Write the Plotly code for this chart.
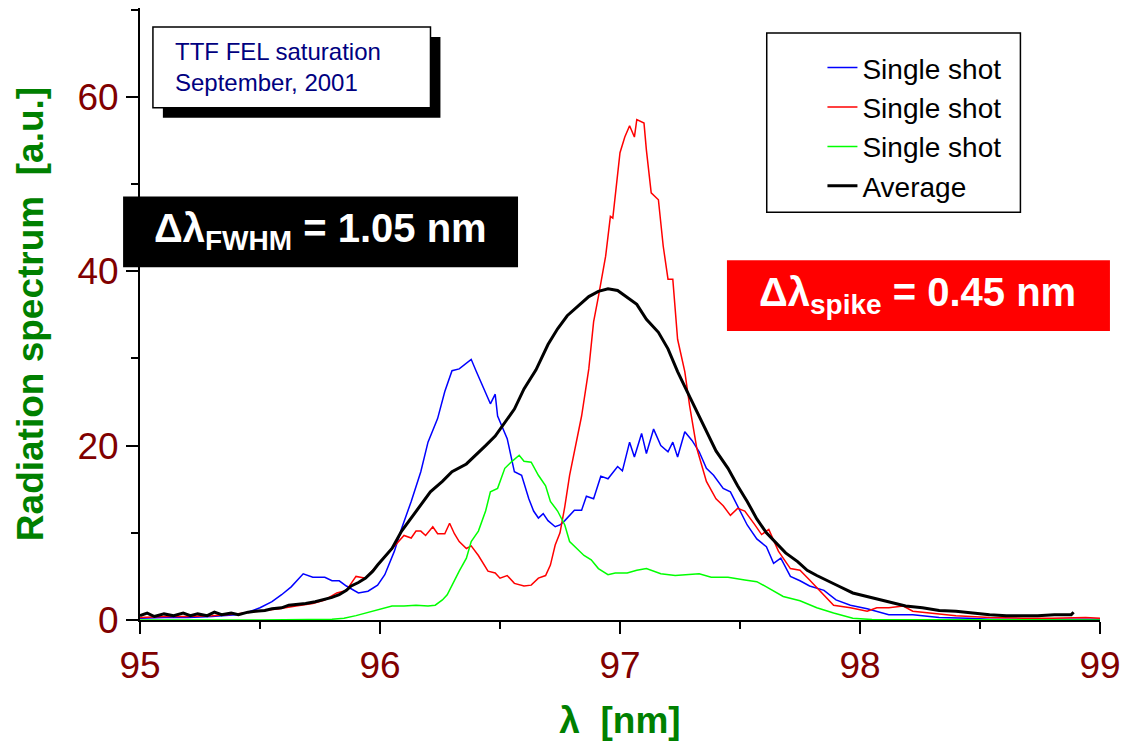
import plotly.graph_objects as go

# ---------------- data ----------------
X_TICKS = [95, 96, 97, 98, 99]
Y_TICKS = [0, 20, 40, 60]

BLUE = [(95.0,0.2),(95.1,0.3),(95.2,0.3),(95.3,0.4),(95.4,0.6),(95.45,0.9),(95.5,1.4),(95.55,2.1),
        (95.59,2.9),(95.63,3.8),(95.68,5.3),(95.72,4.9),(95.77,4.9),(95.8,4.5),(95.83,4.5),(95.86,3.9),
        (95.91,3.1),(95.95,3.3),(95.99,4.0),(96.02,5.2),(96.06,7.9),(96.09,10.5),(96.13,13.6),(96.17,17.0),
        (96.20,20.4),(96.24,23.1),(96.27,26.2),(96.30,28.6),(96.33,28.8),(96.36,29.5),(96.38,29.9),(96.40,28.6),
        (96.44,26.2),(96.46,24.8),(96.48,25.9),(96.49,23.4),(96.53,20.8),(96.56,17.0),(96.59,16.6),(96.62,13.9),
        (96.64,12.5),(96.66,11.7),(96.68,12.2),(96.70,11.4),(96.73,10.7),(96.75,10.9),(96.77,11.4),(96.81,12.6),
        (96.84,12.6),(96.86,14.2),(96.89,13.9),(96.92,16.5),(96.95,16.2),(96.99,17.6),(97.01,17.1),(97.04,20.4),
        (97.06,18.7),(97.09,21.4),(97.11,19.1),(97.14,21.9),(97.17,20.0),(97.20,19.3),(97.22,20.4),(97.24,18.7),
        (97.27,21.6),(97.30,20.6),(97.33,19.3),(97.36,17.4),(97.39,16.6),(97.43,15.1),(97.46,14.7),(97.49,13.1),
        (97.53,10.9),(97.57,9.3),(97.61,8.4),(97.64,6.5),(97.67,7.1),(97.71,5.0),(97.75,4.5),(97.79,3.9),
        (97.85,3.4),(97.90,2.3),(97.96,1.7),(98.03,1.3),(98.12,0.6),(98.22,0.6),(98.33,0.3),(98.45,0.2),
        (98.54,0.1),(98.7,0.1),(98.85,0.1),(99.0,0.1)]

RED = [(95.0,0.3),(95.1,0.4),(95.2,0.4),(95.3,0.5),(95.4,0.7),(95.5,1.0),(95.58,1.3),(95.65,1.6),
       (95.72,1.9),(95.77,2.3),(95.82,3.1),(95.86,3.4),(95.90,5.0),(95.94,4.8),(95.99,6.3),(96.05,8.1),
       (96.10,9.7),(96.13,9.4),(96.15,10.2),(96.17,10.2),(96.19,9.7),(96.22,10.7),(96.24,9.9),(96.27,9.9),
       (96.29,11.1),(96.31,9.9),(96.33,9.0),(96.36,8.2),(96.38,8.5),(96.41,7.4),(96.45,5.6),(96.48,5.4),
       (96.50,4.8),(96.53,5.1),(96.56,4.2),(96.60,3.9),(96.63,4.0),(96.66,4.8),(96.69,5.1),(96.71,6.3),
       (96.73,8.6),(96.75,10.0),(96.77,13.0),(96.79,16.6),(96.81,19.5),(96.84,23.4),(96.87,28.8),(96.89,34.2),
       (96.91,37.1),(96.94,41.7),(96.96,46.3),(96.97,46.1),(97.00,53.6),(97.02,55.4),(97.04,56.7),(97.06,55.4),
       (97.07,57.4),(97.10,57.0),(97.11,53.9),(97.13,49.0),(97.16,48.2),(97.18,42.9),(97.20,39.1),(97.22,39.1),
       (97.24,32.2),(97.27,28.5),(97.29,24.6),(97.32,19.7),(97.36,15.9),(97.40,13.9),(97.43,13.1),(97.46,12.0),
       (97.49,12.8),(97.52,12.5),(97.56,11.0),(97.59,9.8),(97.62,10.4),(97.66,7.9),(97.71,5.9),(97.75,5.7),
       (97.79,4.6),(97.83,3.4),(97.89,1.7),(97.96,1.4),(98.03,1.0),(98.07,1.4),(98.12,1.4),(98.18,1.6),
       (98.22,1.0),(98.29,0.8),(98.40,0.5),(98.54,0.3),(98.68,0.2),(98.80,0.2),(98.94,0.3),(99.0,0.2)]

GREEN = [(95.0,0.0),(95.5,0.0),(95.8,0.1),(95.85,0.2),(95.90,0.5),(95.97,1.0),(96.02,1.4),(96.05,1.6),
         (96.10,1.6),(96.15,1.7),(96.20,1.6),(96.23,1.7),(96.26,2.3),(96.28,2.9),(96.33,5.6),(96.36,7.1),
         (96.38,9.0),(96.41,10.2),(96.44,12.5),(96.46,14.7),(96.49,15.1),(96.52,17.4),(96.55,18.2),(96.58,18.9),
         (96.60,18.2),(96.63,18.1),(96.66,16.6),(96.69,15.4),(96.71,13.6),(96.74,12.5),(96.77,10.9),(96.79,9.0),
         (96.82,8.2),(96.85,7.4),(96.88,6.9),(96.91,5.9),(96.95,5.2),(96.98,5.4),(97.03,5.4),(97.07,5.7),
         (97.11,5.9),(97.17,5.3),(97.23,5.1),(97.28,5.2),(97.33,5.3),(97.38,4.9),(97.45,4.9),(97.52,4.6),
         (97.57,4.4),(97.61,3.8),(97.65,3.2),(97.68,2.7),(97.75,2.2),(97.82,1.4),(97.89,0.8),(97.97,0.2),
         (98.05,0.05),(98.5,0.0),(99.0,0.0)]

AVERAGE = [(95.0,0.5),(95.03,0.8),(95.06,0.4),(95.1,0.7),(95.14,0.5),(95.18,0.8),(95.21,0.5),(95.24,0.7),
           (95.28,0.5),(95.31,0.9),(95.34,0.6),(95.38,0.8),(95.41,0.6),(95.45,0.9),(95.48,1.0),(95.52,1.1),
           (95.55,1.3),(95.59,1.4),(95.62,1.7),(95.66,1.8),(95.69,1.9),(95.73,2.1),(95.76,2.3),(95.80,2.6),
           (95.83,2.9),(95.86,3.4),(95.88,3.9),(95.91,4.3),(95.94,4.8),(95.97,5.6),(95.99,6.3),(96.02,7.2),
           (96.05,8.2),(96.09,10.2),(96.13,11.7),(96.17,13.1),(96.21,14.7),(96.26,15.9),(96.30,17.0),(96.36,17.9),
           (96.40,18.9),(96.44,20.0),(96.48,21.1),(96.52,22.7),(96.56,24.2),(96.60,26.5),(96.65,28.7),(96.70,31.6),
           (96.74,33.4),(96.78,34.9),(96.82,35.9),(96.87,37.1),(96.91,37.7),(96.95,38.0),(96.99,37.8),(97.03,37.0),
           (97.07,36.2),(97.11,34.5),(97.16,33.0),(97.20,31.1),(97.24,28.5),(97.28,26.2),(97.32,23.9),(97.36,21.6),
           (97.40,19.4),(97.45,17.4),(97.49,15.4),(97.53,13.6),(97.57,11.6),(97.61,10.0),(97.65,8.8),(97.69,7.7),
           (97.74,6.7),(97.78,5.7),(97.82,5.1),(97.86,4.6),(97.91,3.9),(97.97,3.1),(98.03,2.7),(98.08,2.3),
           (98.14,1.9),(98.19,1.6),(98.26,1.4),(98.33,1.1),(98.40,1.0),(98.47,0.8),(98.54,0.6),(98.61,0.5),
           (98.68,0.5),(98.74,0.5),(98.81,0.6),(98.88,0.6),(98.89,0.9)]

SERIES = [("Single shot", BLUE, "#0000FF", 1.5),
          ("Single shot", RED, "#FF0000", 1.5),
          ("Single shot", GREEN, "#00FF00", 1.5),
          ("Average", AVERAGE, "#000000", 3)]

# ---------------- figure ----------------
W, H = 1129, 742
L, R, T, B = 140, 24, 8, 120
PW, PH = W - L - R, H - T - B

def px(x):
    return (x - L) / PW

def py(y):
    return (H - B - y) / PH

fig = go.Figure()
for name, pts, color, width in SERIES:
    xs = [p[0] for p in pts]
    ys = [p[1] for p in pts]
    fig.add_trace(go.Scatter(x=xs, y=ys, mode="lines", name=name,
                             line=dict(color=color, width=width)))

TICKFONT = dict(family="Liberation Sans, Arial", size=37, color="#800000")
TITLEFONT = dict(family="Liberation Sans, Arial", size=37, color="#008000")

common = dict(showgrid=False, zeroline=False, showline=True, linecolor="black", linewidth=2)

fig.update_layout(
    width=W, height=H, margin=dict(l=L, r=R, t=T, b=B),
    plot_bgcolor="white", paper_bgcolor="white",
    xaxis=dict(range=[95, 99], tickvals=X_TICKS, ticktext=[str(v) for v in X_TICKS],
               ticks="outside", ticklen=12, tickwidth=2, tickcolor="black",
               minor=dict(dtick=0.5, tick0=95, ticks="outside", ticklen=7, tickwidth=2, tickcolor="black"),
               tickfont=TICKFONT,
               title=dict(text="<b>λ  [nm]</b>", font=TITLEFONT, standoff=22),
               **common),
    yaxis=dict(range=[0, 70.2], tickvals=Y_TICKS, ticktext=[str(v) for v in Y_TICKS],
               ticks="outside", ticklen=12, tickwidth=2, tickcolor="black",
               minor=dict(dtick=10, tick0=0, ticks="outside", ticklen=7, tickwidth=2, tickcolor="black"),
               tickfont=TICKFONT,
               title=dict(text="<b>Radiation spectrum  [a.u.]</b>", font=TITLEFONT, standoff=22),
               **common),
    xaxis2=dict(overlaying="x", side="top", range=[95, 99], tickvals=X_TICKS, showticklabels=False,
                ticks="inside", ticklen=12, tickwidth=2, tickcolor="black",
                minor=dict(dtick=0.5, tick0=95, ticks="inside", ticklen=7, tickwidth=2, tickcolor="black"),
                **common),
    yaxis2=dict(overlaying="y", side="right", range=[0, 70.2], tickvals=Y_TICKS, showticklabels=False,
                ticks="inside", ticklen=12, tickwidth=2, tickcolor="black",
                minor=dict(dtick=10, tick0=0, ticks="inside", ticklen=7, tickwidth=2, tickcolor="black"),
                **common),
    legend=dict(x=px(826), y=py(43), xanchor="left", yanchor="top",
                bgcolor="rgba(0,0,0,0)", borderwidth=0,
                font=dict(family="Liberation Sans, Arial", size=28, color="black"),
                tracegroupgap=0),
    showlegend=True,
)

def rect(x0, y0, x1, y1, fill, line_w=0, line_c="black"):
    fig.add_shape(type="rect", xref="paper", yref="paper",
                  x0=px(x0), x1=px(x1), y0=py(y1), y1=py(y0),
                  fillcolor=fill, line=dict(width=line_w, color=line_c), layer="above")

# legend frame
rect(770, 33, 1025, 213, "white", 1.5)
# info box with shadow
rect(163, 37, 442, 118, "black")
rect(153, 27, 432, 108, "white", 1.5)
# highlight boxes
rect(123, 197, 520, 268, "black")
rect(730, 261, 1115, 332, "#FF0000")

fig.add_annotation(xref="paper", yref="paper", x=px(173), y=py(67), xanchor="left", yanchor="middle",
                   text="TTF FEL saturation<br>September, 2001", align="left", showarrow=False,
                   font=dict(family="Liberation Sans, Arial", size=24, color="#000080"))
fig.add_annotation(xref="paper", yref="paper", x=px(321), y=py(232), xanchor="center", yanchor="middle",
                   text="<b>Δλ<sub>FWHM</sub> = 1.05 nm</b>", showarrow=False,
                   font=dict(family="Liberation Sans, Arial", size=40, color="white"))
fig.add_annotation(xref="paper", yref="paper", x=px(922), y=py(296), xanchor="center", yanchor="middle",
                   text="<b>Δλ<sub>spike</sub> = 0.45 nm</b>", showarrow=False,
                   font=dict(family="Liberation Sans, Arial", size=40, color="white"))

fig.write_html("out.html")
